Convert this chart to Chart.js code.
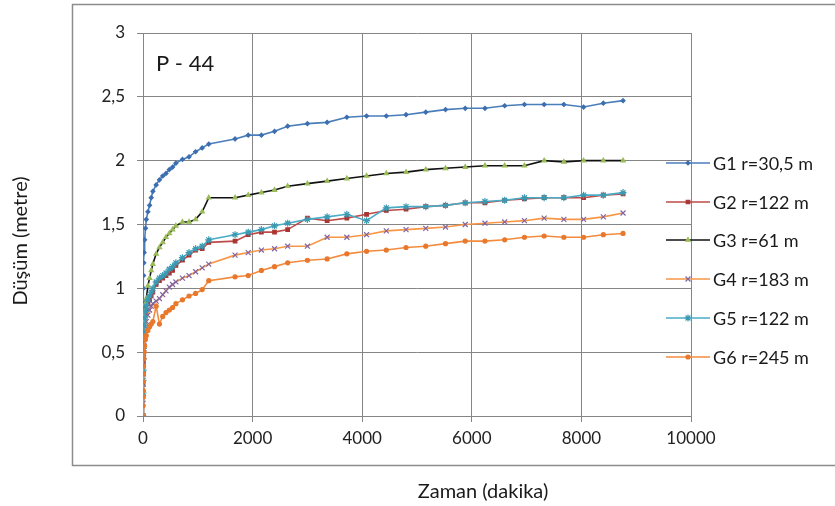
<!DOCTYPE html>
<html>
<head>
<meta charset="utf-8">
<script src="https://cdn.jsdelivr.net/npm/chart.js@4.4.1/dist/chart.umd.min.js"></script>
<style>
  html, body { margin: 0; padding: 0; background: #fff; }
  #wrap { position: relative; width: 835px; height: 506px; }
</style>
</head>
<body>
<div id="wrap"><canvas id="dusumChart" width="835" height="506"></canvas></div>
<script>
// Zaman (dakika) - ortak ölçüm zamanları
const zaman = [0, 1, 2, 3, 5, 7, 10, 15, 20, 30, 45, 60, 90, 120, 150, 180, 240, 300, 360, 420,
  480, 540, 600, 720, 840, 960, 1080, 1200, 1680, 1920, 2160, 2400, 2640, 3000, 3360, 3720,
  4080, 4440, 4800, 5160, 5520, 5880, 6240, 6600, 6960, 7320, 7680, 8040, 8400, 8760];

// Düşüm (metre) - her gözlem kuyusu için
const g1 = [0, 0.4, 0.6, 0.75, 0.9, 1.0, 1.1, 1.2, 1.28, 1.38, 1.47, 1.54, 1.6, 1.65, 1.71, 1.76, 1.81, 1.85, 1.88, 1.9,
  1.93, 1.95, 1.98, 2.01, 2.03, 2.07, 2.1, 2.13, 2.17, 2.2, 2.2, 2.23, 2.27, 2.29, 2.3, 2.34,
  2.35, 2.35, 2.36, 2.38, 2.4, 2.41, 2.41, 2.43, 2.44, 2.44, 2.44, 2.42, 2.45, 2.47];
const g2 = [0, 0.15, 0.25, 0.33, 0.42, 0.5, 0.56, 0.63, 0.68, 0.74, 0.79, 0.83, 0.88, 0.91, 0.94, 0.97, 1.03, 1.06, 1.08, 1.1,
  1.12, 1.14, 1.18, 1.22, 1.26, 1.3, 1.31, 1.36, 1.37, 1.42, 1.44, 1.44, 1.46, 1.55, 1.53, 1.55,
  1.58, 1.61, 1.62, 1.64, 1.65, 1.67, 1.67, 1.69, 1.7, 1.71, 1.71, 1.71, 1.73, 1.74];
const g3 = [0, 0.2, 0.35, 0.45, 0.55, 0.62, 0.68, 0.74, 0.78, 0.82, 0.88, 0.92, 1.02, 1.08, 1.14, 1.19, 1.27, 1.32, 1.36, 1.4,
  1.43, 1.46, 1.49, 1.52, 1.52, 1.54, 1.6, 1.71, 1.71, 1.73, 1.75, 1.77, 1.8, 1.82, 1.84, 1.86,
  1.88, 1.9, 1.91, 1.93, 1.94, 1.95, 1.96, 1.96, 1.96, 2.0, 1.99, 2.0, 2.0, 2.0];
const g4 = [0, 0.1, 0.18, 0.25, 0.33, 0.4, 0.46, 0.53, 0.58, 0.64, 0.7, 0.74, 0.79, 0.83, 0.86, 0.88, 0.9, 0.92, 0.95, 0.98,
  1.01, 1.03, 1.05, 1.08, 1.1, 1.13, 1.16, 1.19, 1.26, 1.28, 1.3, 1.31, 1.33, 1.33, 1.4, 1.4,
  1.42, 1.45, 1.46, 1.47, 1.48, 1.5, 1.51, 1.52, 1.53, 1.55, 1.54, 1.54, 1.56, 1.59];
const g5 = [0, 0.18, 0.28, 0.36, 0.45, 0.53, 0.59, 0.66, 0.71, 0.77, 0.82, 0.86, 0.91, 0.94, 0.97, 1.0, 1.05, 1.08, 1.1, 1.12,
  1.15, 1.17, 1.2, 1.24, 1.28, 1.31, 1.33, 1.38, 1.42, 1.44, 1.46, 1.49, 1.51, 1.54, 1.56, 1.58,
  1.53, 1.63, 1.64, 1.64, 1.65, 1.67, 1.68, 1.69, 1.71, 1.71, 1.71, 1.73, 1.73, 1.75];
const g6 = [0, 0.08, 0.15, 0.2, 0.27, 0.33, 0.39, 0.45, 0.5, 0.55, 0.6, 0.63, 0.67, 0.7, 0.72, 0.74, 0.86, 0.72, 0.78, 0.81,
  0.83, 0.85, 0.88, 0.91, 0.94, 0.96, 0.99, 1.06, 1.09, 1.1, 1.14, 1.17, 1.2, 1.22, 1.23, 1.27,
  1.29, 1.3, 1.32, 1.33, 1.35, 1.37, 1.37, 1.38, 1.4, 1.41, 1.4, 1.4, 1.42, 1.43];

const xTicks = [0, 2000, 4000, 6000, 8000, 10000];
const yTicks = [0, 0.5, 1, 1.5, 2, 2.5, 3];

const seriesNames = ['G1 r=30,5 m', 'G2 r=122 m', 'G3 r=61 m', 'G4 r=183 m', 'G5 r=122 m', 'G6 r=245 m'];

const FONT = 'Lato, "Open Sans", sans-serif';
const GRID = '#858585';

// seri stilleri (Excel 2007 varsayılanları)
const stiller = [
  { line: '#4a7ebb', point: '#3d6fb0', style: 'rectRot', r: 2 },
  { line: '#be4b48', point: '#a83633', style: 'rect', r: 2.5 },
  { line: '#111111', point: '#9bbb59', style: 'triangle', r: 2.5 },
  { line: '#f79646', point: '#8064a2', style: 'crossRot', r: 3.5 },
  { line: '#4bacc6', point: '#3a9ab4', style: 'star', r: 3.5 },
  { line: '#f38b3e', point: '#e8782c', style: 'circle', r: 2 }
];

const tumSeriler = [g1, g2, g3, g4, g5, g6];

const datasets = tumSeriler.map((s, i) => ({
  label: seriesNames[i],
  data: zaman.map((t, k) => ({ x: t, y: s[k] })),
  borderColor: stiller[i].line,
  backgroundColor: stiller[i].point,
  pointBorderColor: stiller[i].point,
  pointBackgroundColor: stiller[i].point,
  pointStyle: stiller[i].style,
  pointRadius: stiller[i].r,
  pointBorderWidth: 1.2,
  borderWidth: 1.6,
  tension: 0,
  order: 6 - i
}));

// Çerçeve, başlıklar, lejant ve "P - 44" etiketi
const ekstraCizim = {
  id: 'ekstraCizim',
  afterDraw(chart) {
    const ctx = chart.ctx;
    ctx.save();

    // dış çerçeve
    ctx.strokeStyle = '#8c8c8c';
    ctx.lineWidth = 1.5;
    ctx.beginPath();
    ctx.moveTo(840, 4.5);
    ctx.lineTo(72.5, 4.5);
    ctx.lineTo(72.5, 465.5);
    ctx.lineTo(840, 465.5);
    ctx.stroke();

    // P - 44
    ctx.fillStyle = '#1a1a1a';
    ctx.font = '22px ' + FONT;
    ctx.textBaseline = 'middle';
    ctx.textAlign = 'left';
    ctx.fillText('P - 44', 156, 64);

    // eksen başlıkları
    ctx.font = '20px ' + FONT;
    ctx.textAlign = 'center';
    ctx.fillText('Zaman (dakika)', 483, 492);
    ctx.save();
    ctx.translate(21, 241);
    ctx.rotate(-Math.PI / 2);
    ctx.fillText('Düşüm (metre)', 0, 0);
    ctx.restore();

    // lejant
    const lejantY = [163, 202, 240, 279, 318, 357];
    ctx.font = '18px ' + FONT;
    ctx.textAlign = 'left';
    chart.data.datasets.forEach((ds, i) => {
      const y = lejantY[i];
      ctx.strokeStyle = ds.borderColor;
      ctx.lineWidth = 1.6;
      ctx.beginPath();
      ctx.moveTo(666, y);
      ctx.lineTo(710, y);
      ctx.stroke();
      ctx.fillStyle = ds.pointBackgroundColor;
      ctx.strokeStyle = ds.pointBorderColor;
      ctx.lineWidth = 1.2;
      Chart.helpers.drawPoint(ctx, {
        pointStyle: ds.pointStyle,
        radius: ds.pointRadius,
        borderWidth: 1.2,
        rotation: 0
      }, 688, y);
      ctx.fillStyle = '#1a1a1a';
      ctx.fillText(ds.label, 713, y + 1);
    });

    ctx.restore();
  }
};

document.addEventListener('DOMContentLoaded', function() {
  const ctx = document.getElementById('dusumChart').getContext('2d');
  new Chart(ctx, {
    type: 'line',
    data: { datasets: datasets },
    options: {
      responsive: false,
      animation: false,
      layout: {
        padding: { left: 0, right: 144, top: 33, bottom: 0 }
      },
      scales: {
        x: {
          type: 'linear',
          min: 0,
          max: 10000,
          afterFit: function(scale) { scale.height = 90; },
          afterBuildTicks: function(scale) { scale.ticks = xTicks.map(v => ({ value: v })); },
          grid: { color: GRID, lineWidth: 1, tickLength: 6, tickColor: GRID },
          border: { color: GRID, width: 1 },
          ticks: {
            color: '#222',
            font: { family: FONT, size: 17 },
            padding: 6,
            maxRotation: 0,
            callback: v => String(v)
          }
        },
        y: {
          min: 0,
          max: 3,
          afterFit: function(scale) { scale.width = 143; },
          afterBuildTicks: function(scale) { scale.ticks = yTicks.map(v => ({ value: v })); },
          grid: { color: GRID, lineWidth: 1, tickLength: 6, tickColor: GRID },
          border: { color: GRID, width: 1 },
          ticks: {
            color: '#222',
            font: { family: FONT, size: 17 },
            padding: 12,
            callback: v => String(v).replace('.', ',')
          }
        }
      },
      plugins: {
        legend: { display: false },
        tooltip: { enabled: false }
      }
    },
    plugins: [ekstraCizim]
  });
});
</script>
</body>
</html>
